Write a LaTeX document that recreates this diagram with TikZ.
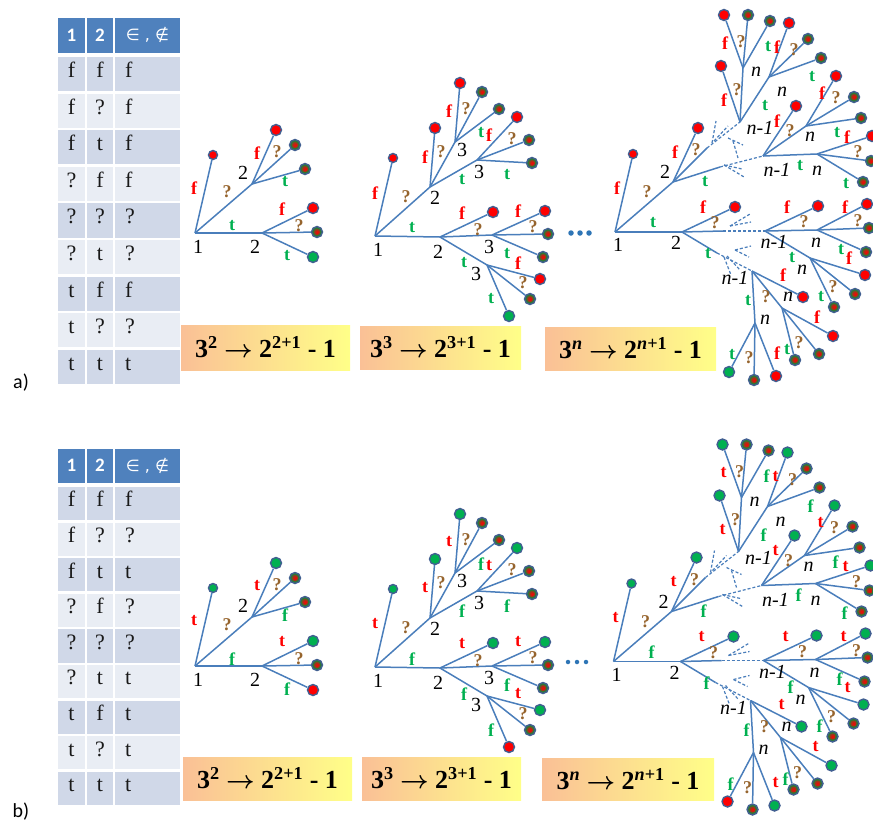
\documentclass[tikz,border=0pt]{standalone}
\usepackage{fontspec}
\setmainfont{Liberation Serif}
\newfontfamily\hdrfont{Carlito}
\newfontfamily\symfont{DejaVu Sans}

\definecolor{edgeblue}{RGB}{74,126,187}
\definecolor{ringblue}{RGB}{65,95,145}
\definecolor{leafred}{RGB}{255,0,0}
\definecolor{leafgreen}{RGB}{0,176,80}
\definecolor{mixgreen}{RGB}{45,120,55}
\definecolor{labred}{RGB}{255,0,0}
\definecolor{labgreen}{RGB}{0,176,80}
\definecolor{labq}{RGB}{150,100,45}
\definecolor{hdrblue}{RGB}{79,129,189}
\definecolor{rowdark}{RGB}{208,216,232}
\definecolor{rowlight}{RGB}{233,237,244}
\definecolor{boxleft}{RGB}{250,192,150}
\definecolor{boxright}{RGB}{255,255,136}
\definecolor{dotblue}{RGB}{46,117,182}
\definecolor{celltext}{RGB}{25,25,25}

\tikzset{
  br/.style={draw=edgeblue, line width=1.5pt},
  brdash/.style={draw=edgeblue, line width=1.2pt, dash pattern=on 3pt off 2pt},
  leaf/.style={circle, inner sep=0pt, minimum size=11pt, draw=ringblue, line width=1.4pt},
  first/.style={minimum size=9pt},
  leafR/.style={leaf, fill=leafred},
  leafG/.style={leaf, fill=leafgreen},
  leafM/.style={leaf, fill=mixgreen,
    path picture={\shade[inner color=leafred, outer color=mixgreen]
      (path picture bounding box.center) circle (3.2pt);}},
  numlab/.style={font=\fontsize{20}{20}\selectfont, inner sep=0pt},
  nlab/.style={font=\fontsize{20}{20}\selectfont\itshape, inner sep=0pt},
  elab/.style={font=\fontsize{18}{18}\selectfont\bfseries, inner sep=0pt},
  labF/.style={elab, text=labred},
  labT/.style={elab, text=labgreen},
  labQ/.style={elab, text=labq},
  hcell/.style={fill=hdrblue, inner sep=0pt, text=white, font=\hdrfont\bfseries\fontsize{19}{19}\selectfont},
  cell/.style={inner sep=0pt, text=celltext, font=\fontsize{22}{22}\selectfont, text height=0.68em, text depth=0pt},
  fbox/.style={left color=boxleft, right color=boxright, inner sep=0pt, font=\bfseries\fontsize{26}{26}\selectfont},
  tag/.style={font=\hdrfont\fontsize{20}{20}\selectfont, inner sep=0pt},
  dot/.style={circle, fill=dotblue, inner sep=0pt, minimum size=5.5pt},
}

\newcounter{lbl}
\def\txtF{f}
\def\txtT{t}
\newcommand\edgeF[2]{\stepcounter{lbl}\node[labF] (lb\arabic{lbl}) at (#1,#2) {\txtF};}
\newcommand\edgeT[2]{\stepcounter{lbl}\node[labT] (lb\arabic{lbl}) at (#1,#2) {\txtT};}
\newcommand\edgeQ[2]{\stepcounter{lbl}\node[labQ] (lb\arabic{lbl}) at (#1,#2) {?};}
\newcommand\lvl[3]{\stepcounter{lbl}\node[numlab] (lb\arabic{lbl}) at (#1,#2) {#3};}
\newcommand\lvlit[3]{\stepcounter{lbl}\node[nlab] (lb\arabic{lbl}) at (#1,#2) {#3};}

% truth table: #1 prefix, #2 header top, #3 first row top, #4 row pitch, #5 rows
\newcommand\truthtable[5]{%
  \pgfmathsetmacro\hh{#3-#2-4.5}
  \pgfmathsetmacro\hy{#2+\hh/2}
  \node[hcell, minimum width=27pt, minimum height=\hh pt] (#1h1) at (71.5,\hy) {1};
  \node[hcell, minimum width=26pt, minimum height=\hh pt] (#1h2) at (100,\hy) {2};
  \node[hcell, minimum width=65pt, minimum height=\hh pt] (#1h3) at (147.5,\hy)
       {\symfont\mdseries\fontsize{16}{16}\selectfont ∈ , ∉};
  \foreach \a/\b/\c [count=\i] in {#5} {
    \pgfmathsetmacro\rh{#4-2.5}
    \pgfmathsetmacro\yc{#3+(\i-1)*#4+\rh/2}
    \pgfmathtruncatemacro\odd{mod(\i,2)}
    \ifnum\odd=1 \def\rowcol{rowdark}\else\def\rowcol{rowlight}\fi
    \node[cell, fill=\rowcol, minimum width=27pt, minimum height=\rh pt] (#1r\i a) at (71.5,\yc) {\a};
    \node[cell, fill=\rowcol, minimum width=26pt, minimum height=\rh pt] (#1r\i b) at (100,\yc) {\b};
    \node[cell, fill=\rowcol, minimum height=\rh pt, text width=45pt, inner xsep=10pt, align=left] (#1r\i c) at (147.5,\yc) {\c};
  }
}

% two-level tree
\newcommand\smalltree[1]{%
  \coordinate (#1R) at (195,233);
  \coordinate (#1U) at (252,184);
  \coordinate (#1D) at (262,233);
  \node[leafR, first] (#1l0) at (213,155) {};
  \node[leafR] (#1u1) at (276,130) {};
  \node[leafM] (#1u2) at (295,145) {};
  \node[leafM] (#1u3) at (305,169) {};
  \node[leafR] (#1d1) at (313,208) {};
  \node[leafM] (#1d2) at (317,232) {};
  \node[leafG] (#1d3) at (313,257) {};
  \draw[br] (#1R) -- (#1l0);
  \draw[br] (#1R) -- (#1U);
  \draw[br] (#1R) -- (#1D);
  \foreach \k in {u1,u2,u3} \draw[br] (#1U) -- (#1\k);
  \foreach \k in {d1,d2,d3} \draw[br] (#1D) -- (#1\k);
  \lvl{198}{247}{1}\lvl{243}{173}{2}\lvl{255}{247}{2}
  \foreach \x/\y in {194/188,257/153,282/209} {\edgeF{\x}{\y}}
  \foreach \x/\y in {227/192,277/152,299/226} {\edgeQ{\x}{\y}}
  \foreach \x/\y in {232/226,285/182,287/256} {\edgeT{\x}{\y}}
}

% three-level tree
\newcommand\midtree[1]{%
  \coordinate (#1R) at (375,236);
  \coordinate (#1U) at (430,187);
  \coordinate (#1Ua) at (455,142);
  \coordinate (#1Ub) at (477,160);
  \coordinate (#1D) at (440,237);
  \coordinate (#1Da) at (492,235);
  \coordinate (#1Db) at (487,265);
  \node[leafR, first] (#1l0) at (393,158) {};
  \node[leafR] (#1u0) at (435,128) {};
  \node[leafR] (#1a1) at (460,83) {};
  \node[leafM] (#1a2) at (482,92) {};
  \node[leafM] (#1a3) at (499,109) {};
  \node[leafR] (#1b1) at (517,117) {};
  \node[leafM] (#1b2) at (529,140) {};
  \node[leafM] (#1b3) at (532,163) {};
  \node[leafR] (#1d0) at (493,212) {};
  \node[leafR] (#1c1) at (545,211) {};
  \node[leafM] (#1c2) at (548,234) {};
  \node[leafM] (#1c3) at (543,257) {};
  \node[leafR] (#1e1) at (540,279) {};
  \node[leafM] (#1e2) at (530,299) {};
  \node[leafG] (#1e3) at (509,316) {};
  \draw[br] (#1R) -- (#1l0);
  \draw[br] (#1R) -- (#1U);
  \draw[br] (#1R) -- (#1D);
  \draw[br] (#1U) -- (#1u0);
  \draw[br] (#1U) -- (#1Ua);
  \draw[br] (#1U) -- (#1Ub);
  \foreach \k in {a1,a2,a3} \draw[br] (#1Ua) -- (#1\k);
  \foreach \k in {b1,b2,b3} \draw[br] (#1Ub) -- (#1\k);
  \draw[br] (#1D) -- (#1d0);
  \draw[br] (#1D) -- (#1Da);
  \draw[br] (#1D) -- (#1Db);
  \foreach \k in {c1,c2,c3} \draw[br] (#1Da) -- (#1\k);
  \foreach \k in {e1,e2,e3} \draw[br] (#1Db) -- (#1\k);
  \lvl{378}{250}{1}\lvl{435}{198}{2}\lvl{462}{150}{3}\lvl{479}{172}{3}
  \lvl{438}{252}{2}\lvl{489}{247}{3}\lvl{476}{274}{3}
  \foreach \x/\y in {375/193,425/157,449/111,489/135,462/213,518/211,518/263} {\edgeF{\x}{\y}}
  \foreach \x/\y in {406/197,441/152,466/109,512/139,478/230,533/227,523/283} {\edgeQ{\x}{\y}}
  \foreach \x/\y in {412/228,462/180,481/133,507/175,464/263,507/254,491/299} {\edgeT{\x}{\y}}
}

% n-level tree with elided middle levels
\newcommand\bigtree[1]{%
  \coordinate (#1R) at (615,232);
  \coordinate (#1U) at (673,182);
  \coordinate (#1P1) at (707,148);
  \coordinate (#1P2) at (720,167);
  \coordinate (#1N1) at (740,122);
  \coordinate (#1N2) at (763,156);
  \coordinate (#1Na) at (743,68);
  \coordinate (#1Nb) at (769,77);
  \coordinate (#1Nc) at (806,126);
  \coordinate (#1Nd) at (817,154);
  \coordinate (#1D) at (682,232);
  \coordinate (#1P3) at (723,231);
  \coordinate (#1P4) at (717,253);
  \coordinate (#1N3) at (765,231);
  \coordinate (#1N4) at (752,271);
  \coordinate (#1Ne) at (817,230);
  \coordinate (#1Nf) at (810,258);
  \coordinate (#1Ng) at (782,308);
  \coordinate (#1Nh) at (755,323);
  \node[leafR, first] (#1l0) at (633,154) {};
  \node[leafR] (#1u1) at (698,128) {};
  \node[leafR] (#1n1) at (721,66) {};
  \node[leafR] (#1a1) at (724,15) {};
  \node[leafM] (#1a2) at (748,15) {};
  \node[leafM] (#1a3) at (770,21) {};
  \node[leafR] (#1b1) at (789,23) {};
  \node[leafM] (#1b2) at (808,39) {};
  \node[leafM] (#1b3) at (821,58) {};
  \node[leafR] (#1n2) at (796,106) {};
  \node[leafR] (#1c1) at (836,76) {};
  \node[leafM] (#1c2) at (854,97) {};
  \node[leafM] (#1c3) at (861,118) {};
  \node[leafR] (#1d1) at (872,136) {};
  \node[leafM] (#1d2) at (871,161) {};
  \node[leafM] (#1d3) at (863,182) {};
  \node[leafR] (#1m1) at (735,207) {};
  \node[leafR] (#1n3) at (818,206) {};
  \node[leafR] (#1e1) at (867,204) {};
  \node[leafM] (#1e2) at (869,228) {};
  \node[leafM] (#1e3) at (866,252) {};
  \node[leafR] (#1f1) at (865,275) {};
  \node[leafM] (#1f2) at (855,294) {};
  \node[leafM] (#1f3) at (834,307) {};
  \node[leafR] (#1n4) at (803,297) {};
  \node[leafR] (#1g1) at (833,336) {};
  \node[leafM] (#1g2) at (819,354) {};
  \node[leafM] (#1g3) at (795,360) {};
  \node[leafR] (#1h1) at (776,376) {};
  \node[leafM] (#1h2) at (754,380) {};
  \node[leafG] (#1h3) at (729,372) {};
  % solid branches
  \draw[br] (#1R) -- (#1l0);
  \draw[br] (#1R) -- (#1U);
  \draw[br] (#1R) -- (#1D);
  \draw[br] (#1U) -- (#1u1);
  \draw[br] (#1U) -- (#1P1);
  \draw[br] (#1U) -- (#1P2);
  \draw[br] (#1D) -- (#1m1);
  \draw[br] (#1D) -- (#1P3);
  \draw[br] (#1D) -- (#1P4);
  \draw[br] (#1N1) -- (#1n1);
  \draw[br] (#1N1) -- (#1Na);
  \draw[br] (#1N1) -- (#1Nb);
  \draw[br] (#1N2) -- (#1n2);
  \draw[br] (#1N2) -- (#1Nc);
  \draw[br] (#1N2) -- (#1Nd);
  \draw[br] (#1N3) -- (#1n3);
  \draw[br] (#1N3) -- (#1Ne);
  \draw[br] (#1N3) -- (#1Nf);
  \draw[br] (#1N4) -- (#1n4);
  \draw[br] (#1N4) -- (#1Ng);
  \draw[br] (#1N4) -- (#1Nh);
  \foreach \k in {a1,a2,a3} \draw[br] (#1Na) -- (#1\k);
  \foreach \k in {b1,b2,b3} \draw[br] (#1Nb) -- (#1\k);
  \foreach \k in {c1,c2,c3} \draw[br] (#1Nc) -- (#1\k);
  \foreach \k in {d1,d2,d3} \draw[br] (#1Nd) -- (#1\k);
  \foreach \k in {e1,e2,e3} \draw[br] (#1Ne) -- (#1\k);
  \foreach \k in {f1,f2,f3} \draw[br] (#1Nf) -- (#1\k);
  \foreach \k in {g1,g2,g3} \draw[br] (#1Ng) -- (#1\k);
  \foreach \k in {h1,h2,h3} \draw[br] (#1Nh) -- (#1\k);
  % elided levels
  \draw[brdash] (#1P1) -- (#1N1);
  \draw[brdash] (#1P2) -- (#1N2);
  \draw[brdash] (#1P3) -- (#1N3);
  \draw[brdash] (#1P4) -- (#1N4);
  \draw[brdash] (712,143) -- (716,121);
  \draw[brdash] (714,141) -- (728,126);
  \draw[brdash] (728,138) -- (743,145);
  \draw[brdash] (733,141) -- (738,158);
  \draw[brdash] (724,165) -- (742,169);
  \draw[brdash] (724,165) -- (744,177);
  \draw[brdash] (730,226) -- (750,214);
  \draw[brdash] (730,226) -- (751,222);
  \draw[brdash] (735,250) -- (751,246);
  \draw[brdash] (735,250) -- (749,257);
  \draw[brdash] (724,257) -- (731,275);
  \draw[brdash] (727,256) -- (740,270);
  % labels
  \lvl{618}{245}{1}\lvl{665}{172}{2}\lvl{676}{243}{2}
  \lvlit{760}{128}{n-1}\lvlit{777}{170}{n-1}\lvlit{774}{242}{n-1}\lvlit{735}{278}{n-1}
  \foreach \x/\y in {756/72,782/92,810/137,817/171,816/243,802/270,788/297,765/320} {\lvlit{\x}{\y}{n}}
  \foreach \x/\y in {617/188,675/152,724/100,725/43,777/47,777/121,822/93,847/137,
                     703/207,787/207,845/207,849/258,783/275,817/317,777/353} {\edgeF{\x}{\y}}
  \foreach \x/\y in {647/192,696/150,737/90,741/42,794/50,790/131,836/98,858/152,
                     715/223,804/222,858/221,833/287,766/297,799/343,749/358} {\edgeQ{\x}{\y}}
  \foreach \x/\y in {705/182,765/106,768/47,812/77,800/166,837/133,846/184,
                     653/223,708/254,792/258,841/250,821/297,748/301,787/350,732/355} {\edgeT{\x}{\y}}
}

\begin{document}
\begin{tikzpicture}[x=1pt, y=-1pt]
\useasboundingbox (0,0) rectangle (873,825);

% ---------------- panel a ----------------
\truthtable{ta}{18}{57}{36.6}{f/f/f,f/?/f,f/t/f,?/f/f,?/?/?,?/t/?,t/f/f,t/?/?,t/t/t}
\node[tag] (tagA) at (21,383) {a)};
\smalltree{as}
\midtree{am}
\bigtree{ab}
\node[dot] (adot1) at (571,233) {};
\node[dot] (adot2) at (580,233) {};
\node[dot] (adot3) at (589,233) {};
\node[fbox, minimum width=169pt, minimum height=45pt] (abox1) at (265.5,347.5)
  {3\textsuperscript{2} {\boldmath$\rightarrow$} 2\textsuperscript{2+1} - 1};
\node[fbox, minimum width=161pt, minimum height=43pt] (abox2) at (440.5,347.5)
  {3\textsuperscript{3} {\boldmath$\rightarrow$} 2\textsuperscript{3+1} - 1};
\node[fbox, minimum width=171pt, minimum height=43pt] (abox3) at (630.5,348.5)
  {3\textsuperscript{\itshape n} {\boldmath$\rightarrow$} 2\textsuperscript{\itshape n\upshape+1} - 1};

% ---------------- panel b ----------------
\truthtable{tb}{449}{487}{35.6}{f/f/f,f/?/?,f/t/t,?/f/?,?/?/?,?/t/t,t/f/t,t/?/t,t/t/t}
\node[tag] (tagB) at (21,812) {b)};
\begin{scope}[leafR/.style={leaf, fill=leafgreen}, leafG/.style={leaf, fill=leafred}]
  \def\txtF{t}\def\txtT{f}
  \begin{scope}[shift={(0,433)}]
    \smalltree{bs}
  \end{scope}
  \begin{scope}[shift={(0,431)}]
    \midtree{bm}
  \end{scope}
  \begin{scope}[shift={(-1.5,429.5)}]
    \bigtree{bb}
  \end{scope}
\end{scope}
\node[dot, minimum size=4.5pt] (bdot1) at (568,662) {};
\node[dot, minimum size=4.5pt] (bdot2) at (577,662) {};
\node[dot, minimum size=4.5pt] (bdot3) at (586,662) {};
\node[fbox, minimum width=169pt, minimum height=43pt] (bbox1) at (267.5,778.5)
  {3\textsuperscript{2} {\boldmath$\rightarrow$} 2\textsuperscript{2+1} - 1};
\node[fbox, minimum width=159pt, minimum height=43pt] (bbox2) at (441.5,778.5)
  {3\textsuperscript{3} {\boldmath$\rightarrow$} 2\textsuperscript{3+1} - 1};
\node[fbox, minimum width=172pt, minimum height=42pt] (bbox3) at (628,779)
  {3\textsuperscript{\itshape n} {\boldmath$\rightarrow$} 2\textsuperscript{\itshape n\upshape+1} - 1};
\end{tikzpicture}
\end{document}
